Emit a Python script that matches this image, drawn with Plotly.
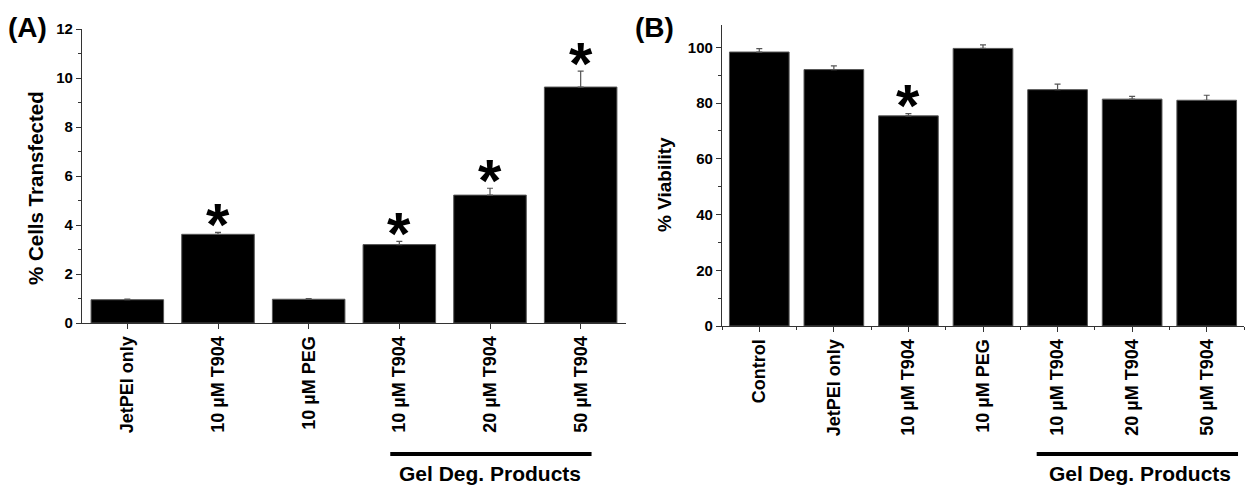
import plotly.graph_objects as go

# ---------------- data ----------------
cats_a = ["JetPEI only", "10 µM T904", "10 µM PEG", "10 µM T904", "20 µM T904", "50 µM T904"]
vals_a = [0.95, 3.62, 0.97, 3.20, 5.22, 9.63]
errs_a = [0.03, 0.08, 0.03, 0.13, 0.28, 0.65]
sig_a = [False, True, False, True, True, True]

cats_b = ["Control", "JetPEI only", "10 µM T904", "10 µM PEG", "10 µM T904", "20 µM T904", "50 µM T904"]
vals_b = [98.3, 92.0, 75.4, 99.6, 84.8, 81.4, 81.0]
errs_b = [1.2, 1.3, 0.8, 1.3, 2.0, 1.0, 1.8]
sig_b = [False, False, True, False, False, False, False]

yticks_a = [0, 2, 4, 6, 8, 10, 12]
yticks_b = [0, 20, 40, 60, 80, 100]

group_label = "Gel Deg. Products"
gel_a = (3, 5)
gel_b = (4, 6)

FONT = "Liberation Sans, Arial, sans-serif"
# page body has an 8px margin; size the figure so it fills the window exactly
OFF = 8
W, H = 1253 - OFF, 489 - OFF


def px(x):
    return (x - OFF) / W


def py(y):
    return 1 - (y - OFF) / H


fig = go.Figure()


def add_panel(cats, vals, errs, xa, ya):
    xs = list(range(len(cats)))
    fig.add_trace(go.Bar(
        x=xs, y=vals, width=0.8,
        marker=dict(color="black", line=dict(color="#555555", width=1)),
        error_y=dict(type="data", symmetric=False, array=errs,
                     arrayminus=[0] * len(errs), color="#555555",
                     thickness=1.2, width=3),
        xaxis=xa, yaxis=ya, showlegend=False))


add_panel(cats_a, vals_a, errs_a, "x", "y")
add_panel(cats_b, vals_b, errs_b, "x2", "y2")

axis_common = dict(showline=True, linecolor="#333333", linewidth=1.2,
                   ticks="outside", tickcolor="#333333", ticklen=5,
                   showgrid=False, zeroline=False, automargin=False)
ytf = dict(family=FONT, size=15, color="black", weight="bold")
xtf = dict(family=FONT, size=18, color="black", weight="bold")

fig.update_layout(
    template="none",
    width=W, height=H,
    margin=dict(l=0, r=0, t=0, b=0, pad=0),
    plot_bgcolor="white", paper_bgcolor="white",
    xaxis=dict(domain=[px(82), px(626)], range=[-0.5, len(cats_a) - 0.5],
               tickvals=list(range(len(cats_a))), ticktext=cats_a,
               tickangle=-90, anchor="y", tickfont=xtf, **axis_common),
    yaxis=dict(domain=[py(323), py(29)], range=[0, 12],
               tickvals=yticks_a, anchor="x", tickfont=ytf,
               minor=dict(dtick=1, ticks="outside", ticklen=3, tickcolor="#333333"),
               **axis_common),
    xaxis2=dict(domain=[px(722), px(1244)], range=[-0.5, len(cats_b) - 0.5],
                tickvals=list(range(len(cats_b))), ticktext=cats_b,
                tickangle=-90, anchor="y2", tickfont=xtf,
                minor=dict(tick0=0.5, dtick=1, ticks="outside", ticklen=3, tickcolor="#333333"),
                **axis_common),
    yaxis2=dict(domain=[py(326), py(25)], range=[0, 108],
                tickvals=yticks_b, anchor="x2", tickfont=ytf,
                minor=dict(dtick=10, ticks="outside", ticklen=3, tickcolor="#333333"),
                **axis_common),
)

ann = []
# significance asterisks
for cats, vals, errs, sig, xr, yr in [(cats_a, vals_a, errs_a, sig_a, "x", "y"),
                                      (cats_b, vals_b, errs_b, sig_b, "x2", "y2")]:
    for i, (v, e, s) in enumerate(zip(vals, errs, sig)):
        if s:
            ann.append(dict(x=i, y=v + e, xref=xr, yref=yr, text="*",
                            showarrow=False, yanchor="middle", yshift=8,
                            font=dict(family=FONT, size=60, color="black", weight="bold")))

# y-axis titles
ann.append(dict(x=px(35), y=py(188), xref="paper", yref="paper",
                text="% Cells Transfected", textangle=-90, showarrow=False,
                xanchor="center", yanchor="middle",
                font=dict(family=FONT, size=20.5, color="black", weight="bold")))
ann.append(dict(x=px(665), y=py(185), xref="paper", yref="paper",
                text="% Viability", textangle=-90, showarrow=False,
                xanchor="center", yanchor="middle",
                font=dict(family=FONT, size=19, color="black", weight="bold")))

# panel letters
ann.append(dict(x=px(7), y=py(27), xref="paper", yref="paper", text="(A)",
                showarrow=False, xanchor="left", yanchor="middle", borderpad=0,
                font=dict(family=FONT, size=28, color="black", weight="bold")))
ann.append(dict(x=px(634), y=py(27), xref="paper", yref="paper", text="(B)",
                showarrow=False, xanchor="left", yanchor="middle", borderpad=0,
                font=dict(family=FONT, size=28, color="black", weight="bold")))

shapes = []
for (g0, g1), xr, x0off, x1off, txoff in [(gel_a, "x", -0.1, 0.12, 0.0),
                                          (gel_b, "x2", -0.28, 0.42, 0.1)]:
    shapes.append(dict(type="line", xref=xr, yref="paper",
                       x0=g0 + x0off, x1=g1 + x1off,
                       y0=py(454), y1=py(454),
                       line=dict(color="black", width=4)))
    ann.append(dict(x=(g0 + g1) / 2 + txoff, y=py(473), xref=xr, yref="paper",
                    text=group_label, showarrow=False,
                    xanchor="center", yanchor="middle",
                    font=dict(family=FONT, size=21, color="black", weight="bold")))

fig.update_layout(annotations=ann, shapes=shapes)

fig.write_html("out.html")
